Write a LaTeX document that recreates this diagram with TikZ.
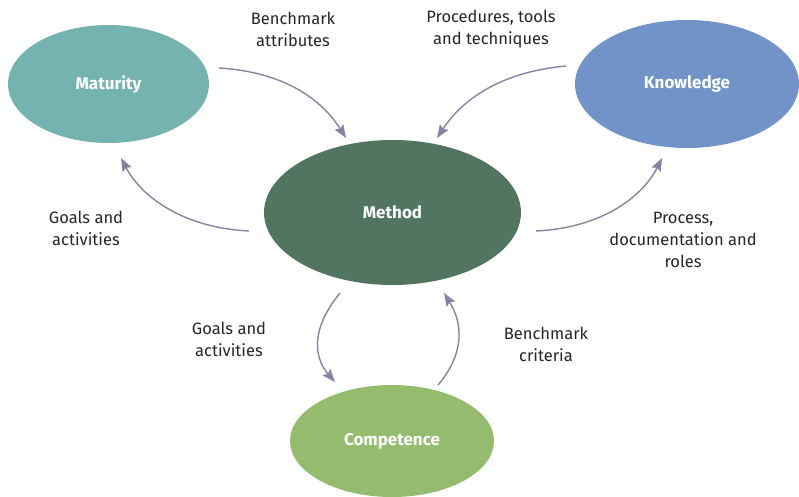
\documentclass[tikz,border=0pt]{standalone}
\usepackage{fontspec}
\setmainfont{Fira Sans}
\usetikzlibrary{arrows.meta}
\definecolor{matcol}{HTML}{74B3B0}
\definecolor{knocol}{HTML}{7193C8}
\definecolor{metcol}{HTML}{527562}
\definecolor{comcol}{HTML}{94BB6E}
\definecolor{arrcol}{HTML}{8585A3}
\definecolor{txtcol}{HTML}{262626}
\tikzset{
  title/.style={text=white, font=\fontsize{17}{20}\selectfont\bfseries},
  flow/.style={draw=arrcol, line width=1.4pt,
    -{Stealth[length=13pt,width=10pt,inset=2pt]}},
  lbl/.style={text=txtcol, align=center, font=\fontsize{16.5}{22}\selectfont}
}
\begin{document}
\begin{tikzpicture}[x=1pt,y=-1pt]
\useasboundingbox (0,0) rectangle (799,497);
\fill[white] (0,0) rectangle (799,497);
% the four areas
\fill[matcol] (108.5,84) ellipse [x radius=100.5, y radius=59];
\node[title] (mat) at (108.5,84) {Maturity};
\fill[knocol] (687,84) ellipse [x radius=112, y radius=64];
\node[title] (kno) at (687,84) {Knowledge};
\fill[metcol] (392.5,212.5) ellipse [x radius=128.5, y radius=72.5];
\node[title] (met) at (392.5,212.5) {Method};
\fill[comcol] (392,441) ellipse [x radius=102, y radius=56];
\node[title] (com) at (392,441) {Competence};
% connector ends
\coordinate (m1) at (219,68);   \coordinate (t1) at (346,138);
\coordinate (k1) at (566,66);   \coordinate (t2) at (437,138);
\coordinate (m2) at (249,231);  \coordinate (t3) at (121,158);
\coordinate (m3) at (536,231);  \coordinate (t4) at (662,158);
\coordinate (m4) at (340,293);  \coordinate (t5) at (335,382);
\coordinate (c1) at (438,385);  \coordinate (t6) at (444,293);
% flows between the areas
\draw[flow] (m1) .. controls (285,72) and (322,100) .. (t1);
\draw[flow] (k1) .. controls (500,72) and (462,100) .. (t2);
\draw[flow] (m2) .. controls (185,228) and (142,198) .. (t3);
\draw[flow] (m3) .. controls (600,228) and (642,198) .. (t4);
\draw[flow] (m4) .. controls (308,332) and (316,360) .. (t5);
\draw[flow] (c1) .. controls (466,352) and (462,322) .. (t6);
% flow labels
\node[lbl] (l1) at (293,29) {Benchmark\\attributes};
\node[lbl] (l2) at (491,29) {Procedures, tools\\and techniques};
\node[lbl] (l3) at (86,228) {Goals and\\activities};
\node[lbl] (l4) at (683,240) {Process,\\documentation and\\roles};
\node[lbl] (l5) at (229,339) {Goals and\\activities};
\node[lbl] (l6) at (546,344) {Benchmark\\criteria};
\end{tikzpicture}
\end{document}
